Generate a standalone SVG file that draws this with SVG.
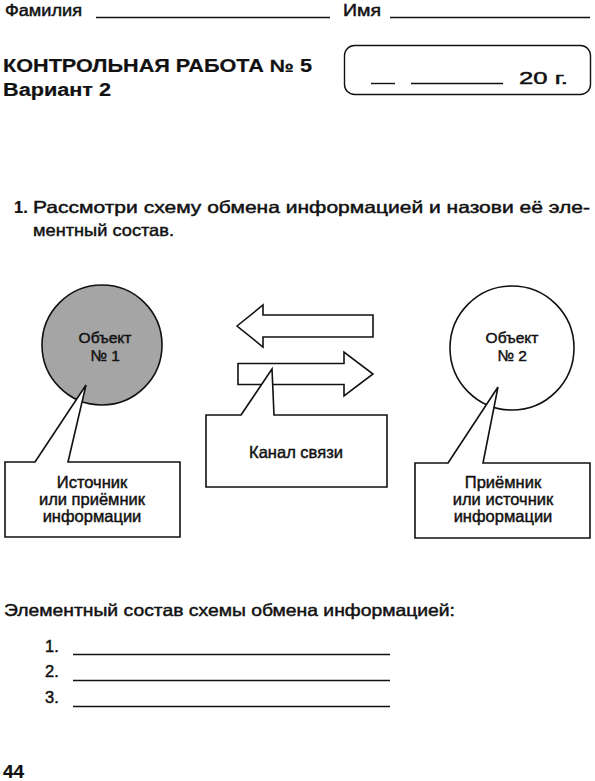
<svg xmlns="http://www.w3.org/2000/svg" width="595" height="781" viewBox="0 0 595 781">
<style>
text{font-family:"Liberation Sans",Arial,sans-serif;fill:#111;stroke:#111;stroke-width:0.45}
.b{font-weight:bold;stroke-width:0.2}
.ln{stroke:#111;stroke-width:1.4;fill:none}
.sh{stroke:#111;stroke-width:1.6;fill:#fff;stroke-linejoin:miter}
.lbl{font-size:16.5px;text-anchor:middle}
.obj{font-size:15.5px;text-anchor:middle}
</style>
<rect width="595" height="781" fill="#fff"/>
<g id="header">
<text x="5" y="15.5" font-size="16" textLength="77" lengthAdjust="spacingAndGlyphs">Фамилия</text>
<line class="ln" x1="96" y1="17.5" x2="330" y2="17.5"/>
<text x="343" y="15.5" font-size="16" textLength="38" lengthAdjust="spacingAndGlyphs">Имя</text>
<line class="ln" x1="390" y1="17.5" x2="590" y2="17.5"/>
<text class="b" x="3" y="72" font-size="17.5" textLength="309" lengthAdjust="spacingAndGlyphs">КОНТРОЛЬНАЯ  РАБОТА  №  5</text>
<text class="b" x="3" y="96" font-size="17.5" textLength="108" lengthAdjust="spacingAndGlyphs">Вариант  2</text>
<rect x="344.5" y="45.5" width="246" height="49" rx="10" class="ln"/>
<line class="ln" x1="371" y1="83.5" x2="395" y2="83.5"/>
<line class="ln" x1="411" y1="83.5" x2="503" y2="83.5"/>
<text x="519" y="83.5" font-size="16.5" textLength="49" lengthAdjust="spacingAndGlyphs">20  г.</text>
</g>
<g id="question">
<text class="b" x="14" y="213" font-size="16.5">1.</text>
<text x="33" y="213" font-size="16.5" textLength="557" lengthAdjust="spacingAndGlyphs">Рассмотри  схему  обмена  информацией  и  назови  её  эле-</text>
<text x="33" y="236" font-size="16.5" textLength="141" lengthAdjust="spacingAndGlyphs">ментный  состав.</text>
</g>
<g id="connectors">
<path class="sh" d="M237,326 L263,305 L263,315 L373,315 L373,337 L263,337 L263,347 Z"/>
<path class="sh" d="M238,363.5 L344,363.5 L344,352 L373,374 L344,396 L344,384.5 L238,384.5 Z"/>
</g>
<g id="object1">
<circle cx="102" cy="345" r="60" fill="#a5a5a5" stroke="#111" stroke-width="1.6"/>
<text class="obj" x="105" y="343">Объект</text>
<text class="obj" x="105" y="361">№ 1</text>
</g>
<g id="object2">
<circle cx="512" cy="348" r="62" fill="#fff" stroke="#111" stroke-width="1.6"/>
<text class="obj" x="512" y="343">Объект</text>
<text class="obj" x="512" y="361">№ 2</text>
</g>
<g id="callout1">
<path class="sh" d="M35,462 L86,385 L68,462 L180,462 L180,537 L5,537 L5,462 Z"/>
<text class="lbl" x="92" y="488">Источник</text>
<text class="lbl" x="92" y="505">или приёмник</text>
<text class="lbl" x="92" y="522">информации</text>
</g>
<g id="channel">
<path class="sh" d="M241,415 L272,369 L274,415 L387,415 L387,487 L206,487 L206,415 Z"/>
<text class="lbl" x="296" y="458">Канал связи</text>
</g>
<g id="callout2">
<path class="sh" d="M448,463 L498,387 L483,463 L590,463 L590,538 L415,538 L415,463 Z"/>
<text class="lbl" x="503" y="488">Приёмник</text>
<text class="lbl" x="503" y="505">или источник</text>
<text class="lbl" x="503" y="522">информации</text>
</g>
<g id="answer">
<text x="4" y="616" font-size="16.5" textLength="451" lengthAdjust="spacingAndGlyphs">Элементный  состав  схемы  обмена  информацией:</text>
<text x="45" y="652" font-size="16.5">1.</text>
<line class="ln" x1="73" y1="654.5" x2="390" y2="654.5"/>
<text x="45" y="677" font-size="16.5">2.</text>
<line class="ln" x1="73" y1="680.5" x2="390" y2="680.5"/>
<text x="45" y="703" font-size="16.5">3.</text>
<line class="ln" x1="73" y1="706.5" x2="390" y2="706.5"/>
<text class="b" x="3" y="778" font-size="19">44</text>
</g>
</svg>
